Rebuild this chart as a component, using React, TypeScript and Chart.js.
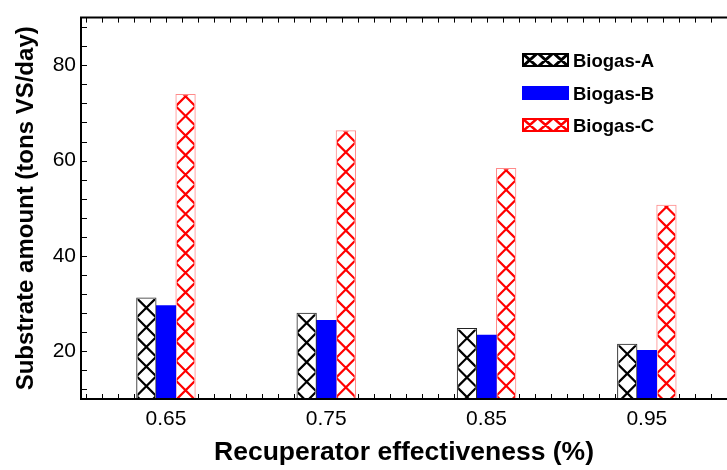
import React, { useEffect, useRef } from 'react';
import { Chart, registerables } from 'chart.js';

Chart.register(...registerables);

const categories = [0.65, 0.75, 0.85, 0.95];
const biogasA = [31.2, 28.0, 24.8, 21.5];
const biogasB = [29.6, 26.5, 23.4, 20.2];
const biogasC = [73.9, 66.3, 58.4, 50.7];
const seriesNames = ['Biogas-A', 'Biogas-B', 'Biogas-C'];
const yTickValues = [20, 40, 60, 80];
const xTickValues = categories;

const FONT = "'Liberation Sans', Arial, Helvetica, sans-serif";

function drawHatchBox(ctx: CanvasRenderingContext2D, x: number, y: number, w: number, h: number, color: string, cells: number, lw: number) {
  ctx.save();
  ctx.fillStyle = '#fff';
  ctx.fillRect(x, y, w, h);
  ctx.beginPath();
  ctx.rect(x, y, w, h);
  ctx.clip();
  ctx.strokeStyle = color;
  ctx.lineWidth = lw;
  const cw = w / cells;
  ctx.beginPath();
  for (let i = 0; i < cells; i++) {
    const l = x + i * cw;
    ctx.moveTo(l, y);
    ctx.lineTo(l + cw, y + h);
    ctx.moveTo(l + cw, y);
    ctx.lineTo(l, y + h);
  }
  ctx.stroke();
  ctx.restore();
  ctx.save();
  ctx.strokeStyle = color;
  ctx.lineWidth = 2;
  ctx.strokeRect(x + 1, y + 1, w - 2, h - 2);
  ctx.restore();
}

const decorPlugin = {
  id: 'decor',
  beforeDatasetsDraw(chart: any) {
    const ctx = chart.ctx as CanvasRenderingContext2D;
    const a = chart.chartArea;
    const xs = chart.scales.x;
    const ys = chart.scales.y;
    ctx.save();
    ctx.strokeStyle = '#000';
    ctx.lineWidth = 1;
    ctx.beginPath();
    for (let v = 12; v <= 88; v += 4) {
      const py = Math.round(ys.getPixelForValue(v)) + 0.5;
      ctx.moveTo(a.left, py);
      ctx.lineTo(a.left + 6, py);
    }
    for (let k = 60; k <= 100; k++) {
      const px = Math.round(xs.getPixelForValue(k / 100)) + 0.5;
      if (px < a.left + 2) continue;
      ctx.moveTo(px, a.bottom);
      ctx.lineTo(px, a.bottom - 5);
      ctx.moveTo(px, a.top);
      ctx.lineTo(px, a.top + 5);
    }
    ctx.stroke();
    ctx.restore();
  },
  afterDatasetsDraw(chart: any) {
    const ctx = chart.ctx as CanvasRenderingContext2D;
    const a = chart.chartArea;
    chart.data.datasets.forEach((ds: any, i: number) => {
      const hatch = ds.hatch;
      if (!hatch) return;
      const meta = chart.getDatasetMeta(i);
      meta.data.forEach((bar: any) => {
        const p = bar.getProps(['x', 'y', 'base', 'width'], true);
        const left = p.x - p.width / 2;
        const right = p.x + p.width / 2;
        const top = Math.min(p.y, p.base);
        const bottom = Math.min(Math.max(p.y, p.base), a.bottom);
        ctx.save();
        ctx.beginPath();
        ctx.rect(left + 1, top + 1, p.width - 2, bottom - top - 1);
        ctx.clip();
        ctx.strokeStyle = hatch.color;
        ctx.lineWidth = 2.2;
        const P = p.width;
        const h = p.width / 2;
        ctx.beginPath();
        for (let yc = top + hatch.offset - P; yc < bottom + P; yc += P) {
          ctx.moveTo(left, yc - h);
          ctx.lineTo(right, yc + h);
          ctx.moveTo(right, yc - h);
          ctx.lineTo(left, yc + h);
        }
        ctx.stroke();
        ctx.restore();
      });
    });
    // frame
    ctx.save();
    ctx.strokeStyle = '#000';
    ctx.lineWidth = 2;
    ctx.beginPath();
    ctx.moveTo(a.right + 2, a.top);
    ctx.lineTo(a.left, a.top);
    ctx.lineTo(a.left, a.bottom);
    ctx.lineTo(a.right + 2, a.bottom);
    ctx.stroke();
    ctx.restore();
  },
  afterDraw(chart: any) {
    const ctx = chart.ctx as CanvasRenderingContext2D;
    const rows = [60, 93, 125];
    const bx = 522, bw = 47, bh = 14;
    rows.forEach((cy, i) => {
      const ds = chart.data.datasets[i];
      const y0 = cy - bh / 2;
      if (ds.hatch) {
        drawHatchBox(ctx, bx, y0, bw, bh, ds.hatch.color, 3, i === 0 ? 3 : 2.5);
      } else {
        ctx.fillStyle = ds.backgroundColor;
        ctx.fillRect(bx, y0, bw, bh);
      }
      ctx.fillStyle = '#000';
      ctx.font = `bold 18.5px ${FONT}`;
      ctx.textAlign = 'left';
      ctx.textBaseline = 'alphabetic';
      ctx.fillText(ds.label, 573, cy + 7);
    });
  },
};

export default function App() {
  const ref = useRef<HTMLCanvasElement | null>(null);
  useEffect(() => {
    if (!ref.current) return;
    const mk = (vals: number[]) => categories.map((c, i) => ({ x: c, y: vals[i] }));
    const chart = new Chart(ref.current, {
      type: 'bar',
      data: {
        datasets: [
          {
            label: seriesNames[0],
            data: mk(biogasA),
            backgroundColor: '#ffffff',
            borderColor: '#222222',
            borderWidth: 1,
            barThickness: 19.6,
            hatch: { color: '#000000', offset: 9.8 },
          } as any,
          {
            label: seriesNames[1],
            data: mk(biogasB),
            backgroundColor: '#0000ff',
            borderWidth: 0,
            barThickness: 19.6,
          } as any,
          {
            label: seriesNames[2],
            data: mk(biogasC),
            backgroundColor: '#ffffff',
            borderColor: 'rgba(255,60,60,0.6)',
            borderWidth: 1,
            barThickness: 19.6,
            hatch: { color: '#ff0000', offset: 2 },
          } as any,
        ],
      },
      options: {
        animation: false,
        responsive: false,
        layout: { padding: { top: 11, right: 0, bottom: 0, left: 0 } },
        plugins: { legend: { display: false }, tooltip: { enabled: false } },
        scales: {
          x: {
            type: 'linear',
            min: 0.597,
            max: 1.0,
            offset: false,
            grid: { display: false, drawTicks: false },
            border: { display: false },
            afterBuildTicks: (s: any) => {
              s.ticks = xTickValues.map((v) => ({ value: v }));
            },
            afterFit: (s: any) => {
              s.height = 71;
            },
            ticks: {
              padding: 8,
              color: '#000',
              autoSkip: false,
              maxRotation: 0,
              font: { family: FONT, size: 21 },
              callback: (v: any) => Number(v).toFixed(2),
            },
            title: {
              display: true,
              text: 'Recuperator effectiveness (%)',
              color: '#000',
              font: { family: FONT, size: 26.5, weight: 'bold' },
              padding: { top: 0, bottom: 1 },
            },
          },
          y: {
            min: 10,
            max: 90,
            grid: { display: false, drawTicks: false },
            border: { display: false },
            afterBuildTicks: (s: any) => {
              s.ticks = yTickValues.map((v) => ({ value: v }));
            },
            afterFit: (s: any) => {
              s.width = 81;
            },
            ticks: {
              padding: 5,
              color: '#000',
              font: { family: FONT, size: 21 },
            },
            title: {
              display: true,
              text: 'Substrate amount (tons VS/day)',
              color: '#000',
              font: { family: FONT, size: 24, weight: 'bold' },
              padding: { top: 12, bottom: 0 },
            },
          },
        },
      } as any,
      plugins: [decorPlugin],
    });
    return () => chart.destroy();
  }, []);
  return (
    <div style={{ position: 'absolute', left: 0, top: 0, width: 727, height: 470, background: '#fff' }}>
      <canvas ref={ref} width={727} height={470} style={{ display: 'block' }} />
    </div>
  );
}
